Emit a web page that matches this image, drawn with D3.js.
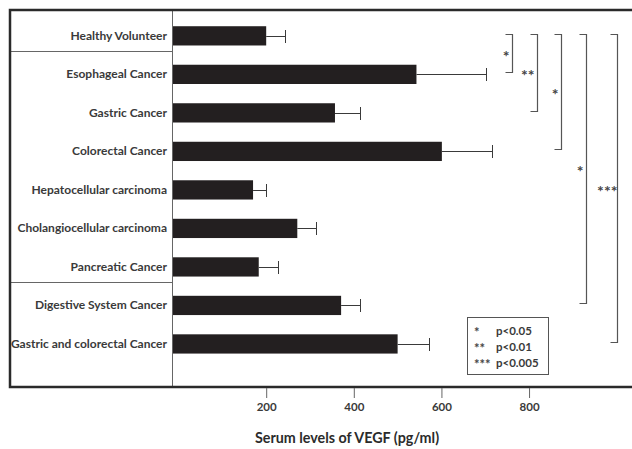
<!DOCTYPE html>
<html>
<head>
<meta charset="utf-8">
<script src="https://cdn.jsdelivr.net/npm/d3@7/dist/d3.min.js"></script>
<style>
  html, body { margin: 0; padding: 0; background: #fff; }
  svg { display: block; font-family: Lato, "Open Sans", sans-serif; }
</style>
</head>
<body>
<svg id="chart" width="632" height="449"></svg>
<script>
// Serum VEGF levels (pg/ml), mean with upper error bar
const categories = [
  "Healthy Volunteer",
  "Esophageal Cancer",
  "Gastric Cancer",
  "Colorectal Cancer",
  "Hepatocellular carcinoma",
  "Cholangiocellular carcinoma",
  "Pancreatic Cancer",
  "Digestive System Cancer",
  "Gastric and colorectal Cancer"
];
const means = [200, 543, 357, 601, 170, 271, 183, 371, 500];
const errors = [43, 158, 58, 114, 29, 43, 45, 44, 72];
const tickValues = [200, 400, 600, 800];

// significance brackets: from row, to row, marker
const brackets = [
  { from: 0, to: 1, mark: "*" },
  { from: 0, to: 2, mark: "**" },
  { from: 0, to: 3, mark: "*" },
  { from: 0, to: 7, mark: "*" },
  { from: 0, to: 8, mark: "***" }
];
const bracketX = [512, 537, 561, 586, 617];

const legendMarks = ["*", "**", "***"];
const legendTexts = ["p<0.05", "p<0.01", "p<0.005"];

// row boundaries that separate groups in the label column
const groupBreaks = [0, 6];

const svg = d3.select("#chart");
const frame = { left: 10, top: 10, bottom: 387, divider: 172 };
const textColor = "#2b2b2b";

const x = d3.scaleLinear().domain([-15, 1035]).range([frame.divider, 632]);
const y = d3.scaleBand()
  .domain(categories)
  .range([16.6, 363.2])
  .paddingInner(0.5)
  .paddingOuter(0.25);
const cy = i => y(categories[i]) + y.bandwidth() / 2;

// bars
svg.append("g").selectAll("rect")
  .data(categories)
  .join("rect")
  .attr("x", x.range()[0])
  .attr("y", d => y(d))
  .attr("width", (d, i) => x(means[i]) - x.range()[0])
  .attr("height", y.bandwidth())
  .attr("fill", "#231f20");

// error bars
const eb = svg.append("g").attr("stroke", "#3a3a3a").attr("stroke-width", 1);
categories.forEach((c, i) => {
  const yc = Math.round(cy(i)) + 0.5;
  const xe = Math.round(x(means[i] + errors[i])) + 0.5;
  eb.append("line").attr("x1", x(means[i])).attr("x2", xe).attr("y1", yc).attr("y2", yc);
  eb.append("line").attr("x1", xe).attr("x2", xe).attr("y1", yc - 6.5).attr("y2", yc + 6.5);
});

// category labels
svg.append("g").selectAll("text")
  .data(categories)
  .join("text")
  .attr("x", 167)
  .attr("y", (d, i) => cy(i) + 4)
  .attr("text-anchor", "end")
  .attr("font-size", 12)
  .attr("font-weight", "bold")
  .attr("fill", "#3a3a3a")
  .text(d => d);

// divider lines in label column
const step = y.step();
svg.append("g").selectAll("line")
  .data(groupBreaks)
  .join("line")
  .attr("x1", frame.left).attr("x2", frame.divider)
  .attr("y1", i => Math.round(y(categories[i]) + y.bandwidth() + step * 0.14) + 0.5)
  .attr("y2", i => Math.round(y(categories[i]) + y.bandwidth() + step * 0.14) + 0.5)
  .attr("stroke", "#666").attr("stroke-width", 1);

svg.append("line")
  .attr("x1", frame.divider + 0.5).attr("x2", frame.divider + 0.5)
  .attr("y1", frame.top).attr("y2", frame.bottom)
  .attr("stroke", "#666").attr("stroke-width", 1);

// outer frame
svg.append("rect")
  .attr("x", frame.left).attr("y", frame.top)
  .attr("width", 660).attr("height", frame.bottom - frame.top)
  .attr("fill", "none").attr("stroke", "#2a2a2a").attr("stroke-width", 2.5);

// x axis
const axis = svg.append("g")
  .attr("transform", `translate(0,${frame.bottom + 1})`)
  .call(d3.axisBottom(x).tickValues(tickValues).tickSize(10).tickPadding(5));
axis.select(".domain").remove();
axis.selectAll(".tick line").attr("stroke", "#666");
axis.selectAll(".tick text")
  .attr("font-family", "Lato, sans-serif")
  .attr("font-size", 11.5)
  .attr("font-weight", "bold")
  .attr("fill", "#3a3a3a");

svg.append("text")
  .attr("x", 347).attr("y", 443)
  .attr("text-anchor", "middle")
  .attr("font-size", 14.3)
  .attr("font-weight", "bold")
  .attr("fill", textColor)
  .text("Serum levels of VEGF (pg/ml)");

// significance brackets
const bg = svg.append("g");
brackets.forEach((b, k) => {
  const bx = bracketX[k] + 0.5;
  const y1 = Math.round(cy(b.from) - 2) + 0.5;
  const y2 = Math.round(cy(b.to) - 2) + 0.5;
  bg.append("path")
    .attr("d", `M${bx - 7},${y1}H${bx}V${y2}H${bx - 7}`)
    .attr("fill", "none").attr("stroke", "#555").attr("stroke-width", 1.2);
  bg.append("text")
    .attr("x", bx - (b.mark.length === 3 ? 0 : 3))
    .attr("y", (y1 + y2) / 2 + 8)
    .attr("text-anchor", "end")
    .attr("font-size", 16)
    .attr("font-weight", "bold")
    .attr("fill", "#444")
    .text(b.mark);
});

// legend: one text line per entry, marker and threshold as tspans
const lg = svg.append("g");
lg.append("rect")
  .attr("x", 467.5).attr("y", 317.5).attr("width", 81).attr("height", 57)
  .attr("fill", "#fff").attr("stroke", "#555").attr("stroke-width", 1);
legendMarks.forEach((m, i) => {
  const t = lg.append("text")
    .attr("y", 334.5 + i * 16)
    .attr("font-weight", "bold")
    .attr("fill", "#3a3a3a");
  t.append("tspan")
    .attr("x", 474).attr("dy", 2)
    .attr("font-size", 13).attr("fill", "#444")
    .text(m);
  t.append("tspan")
    .attr("x", 496).attr("dy", -2)
    .attr("font-size", 11.5)
    .text(legendTexts[i]);
});
</script>
</body>
</html>
